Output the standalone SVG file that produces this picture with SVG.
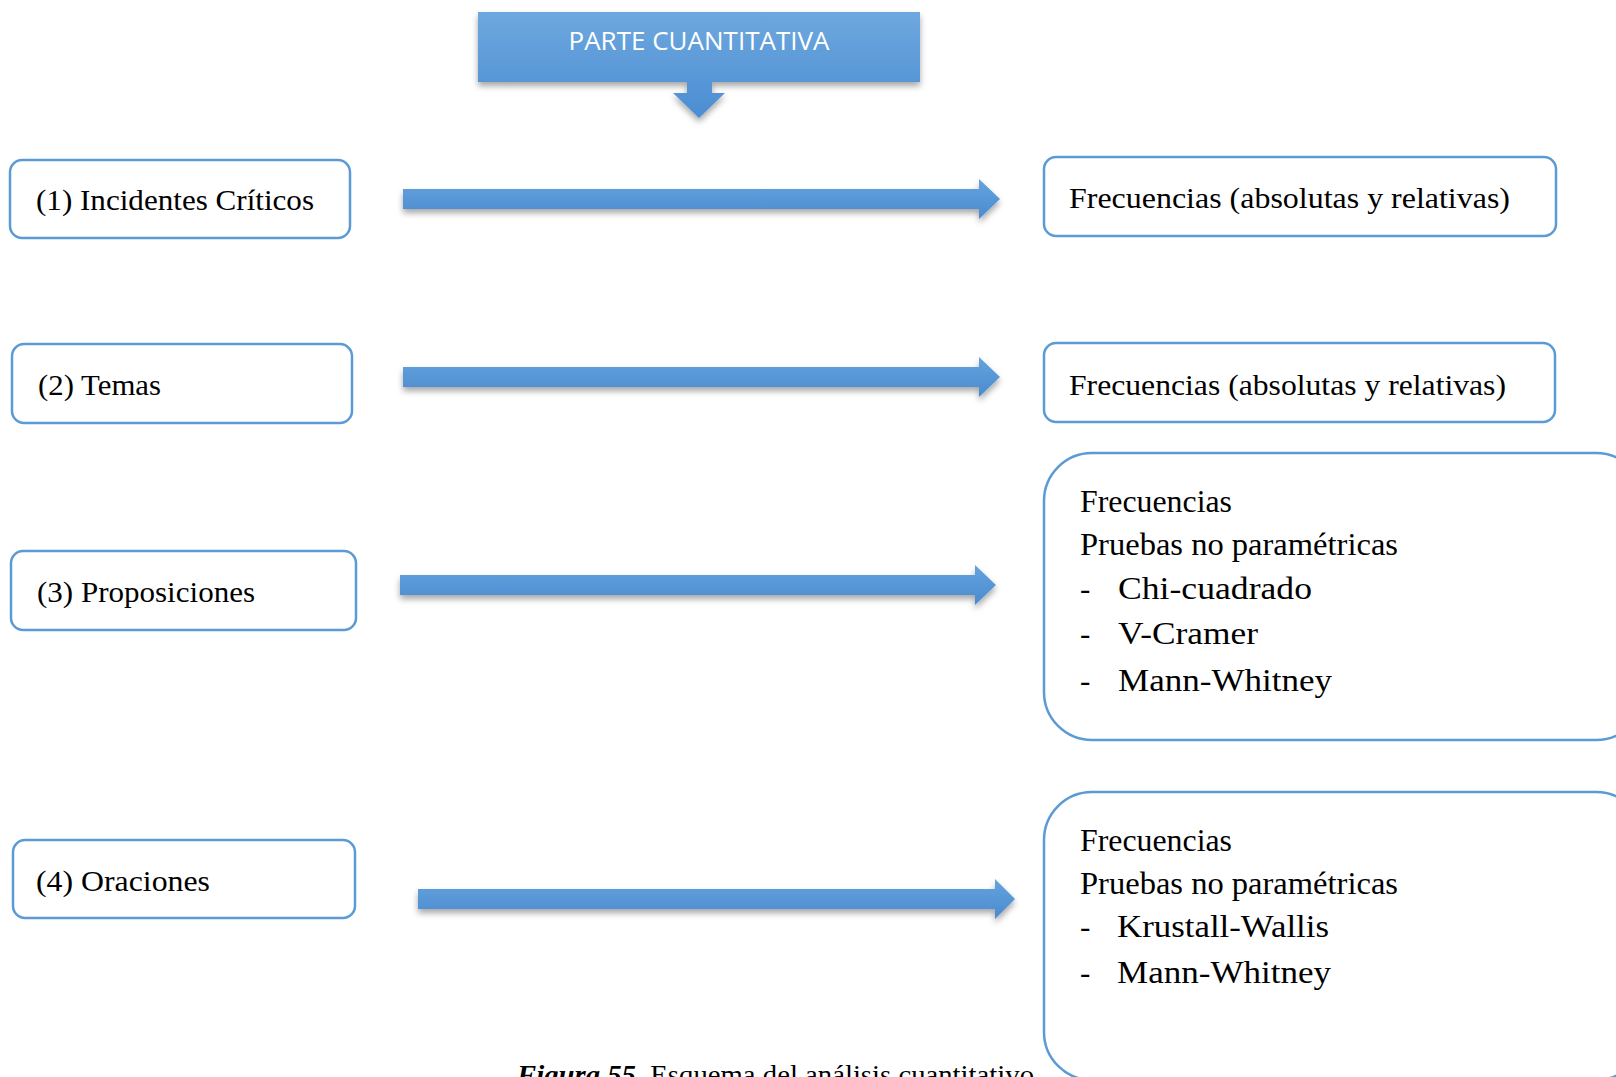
<svg xmlns="http://www.w3.org/2000/svg" width="1616" height="1077" viewBox="0 0 1616 1077">
  <defs>
    <linearGradient id="blueFill" x1="0" y1="0" x2="0" y2="1">
      <stop offset="0" stop-color="#6ea8de"/>
      <stop offset="1" stop-color="#4b8dd3"/>
    </linearGradient>
    <linearGradient id="arrowFill" x1="0" y1="0" x2="0" y2="1">
      <stop offset="0" stop-color="#65a3de"/>
      <stop offset="1" stop-color="#4a8bcf"/>
    </linearGradient>
    <filter id="shadow" x="-5%" y="-40%" width="110%" height="200%">
      <feDropShadow dx="0" dy="4" stdDeviation="3" flood-color="#000" flood-opacity="0.35"/>
    </filter>
  </defs>
  <style>
    .box { fill: #ffffff; stroke: #5b9bd5; stroke-width: 2.5; }
    .lbl { font-family: "Liberation Serif", "DejaVu Serif", serif; font-size: 29px; fill: #000; }
    .lst { font-family: "Liberation Serif", "DejaVu Serif", serif; font-size: 31px; fill: #000; }
    .head { font-family: "Open Sans", "Liberation Sans", sans-serif; font-size: 25px; fill: #ffffff; }
    .cap { font-family: "Liberation Serif", serif; font-size: 27px; fill: #000; }
    .arrow { fill: url(#arrowFill); filter: url(#shadow); }
  </style>

  <rect width="1616" height="1077" fill="#ffffff"/>

  <!-- title callout with downward pointer -->
  <g id="parte-cuantitativa">
    <path d="M478,12 H920 V82 H712 V93 H725 L699,118 L673,93 H687 V82 H478 Z" fill="url(#blueFill)" filter="url(#shadow)"/>
    <text class="head" x="699" y="50" text-anchor="middle" textLength="261" lengthAdjust="spacingAndGlyphs">PARTE CUANTITATIVA</text>
  </g>

  <!-- left-hand units of analysis -->
  <g id="incidentes">
    <rect class="box" x="10" y="160" width="340" height="78" rx="12"/>
    <text class="lbl" x="36" y="210" textLength="278" lengthAdjust="spacingAndGlyphs">(1) Incidentes Críticos</text>
  </g>
  <g id="temas">
    <rect class="box" x="12" y="344" width="340" height="79" rx="12"/>
    <text class="lbl" x="38" y="395" textLength="123" lengthAdjust="spacingAndGlyphs">(2) Temas</text>
  </g>
  <g id="proposiciones">
    <rect class="box" x="11" y="551" width="345" height="79" rx="12"/>
    <text class="lbl" x="37" y="602" textLength="218" lengthAdjust="spacingAndGlyphs">(3) Proposiciones</text>
  </g>
  <g id="oraciones">
    <rect class="box" x="13" y="840" width="342" height="78" rx="12"/>
    <text class="lbl" x="36" y="891" textLength="174" lengthAdjust="spacingAndGlyphs">(4) Oraciones</text>
  </g>

  <!-- right-hand analyses -->
  <g id="frecuencias-1">
    <rect class="box" x="1044" y="157" width="512" height="79" rx="12"/>
    <text class="lbl" x="1069" y="208" textLength="441" lengthAdjust="spacingAndGlyphs">Frecuencias (absolutas y relativas)</text>
  </g>
  <g id="frecuencias-2">
    <rect class="box" x="1044" y="343" width="511" height="79" rx="12"/>
    <text class="lbl" x="1069" y="395" textLength="437" lengthAdjust="spacingAndGlyphs">Frecuencias (absolutas y relativas)</text>
  </g>
  <g id="pruebas-proposiciones">
    <rect class="box" x="1044" y="453" width="600" height="287" rx="48"/>
    <text class="lst" x="1080" y="512" textLength="152" lengthAdjust="spacingAndGlyphs">Frecuencias</text>
    <text class="lst" x="1080" y="555" textLength="318" lengthAdjust="spacingAndGlyphs">Pruebas no paramétricas</text>
    <text class="lst" x="1080" y="599">-</text>
    <text class="lst" x="1118" y="599" textLength="194" lengthAdjust="spacingAndGlyphs">Chi-cuadrado</text>
    <text class="lst" x="1080" y="644">-</text>
    <text class="lst" x="1118" y="644" textLength="140" lengthAdjust="spacingAndGlyphs">V-Cramer</text>
    <text class="lst" x="1080" y="691">-</text>
    <text class="lst" x="1118" y="691" textLength="214" lengthAdjust="spacingAndGlyphs">Mann-Whitney</text>
  </g>
  <g id="pruebas-oraciones">
    <rect class="box" x="1044" y="792" width="600" height="288" rx="48"/>
    <text class="lst" x="1080" y="851" textLength="152" lengthAdjust="spacingAndGlyphs">Frecuencias</text>
    <text class="lst" x="1080" y="894" textLength="318" lengthAdjust="spacingAndGlyphs">Pruebas no paramétricas</text>
    <text class="lst" x="1080" y="937">-</text>
    <text class="lst" x="1117" y="937" textLength="212" lengthAdjust="spacingAndGlyphs">Krustall-Wallis</text>
    <text class="lst" x="1080" y="983">-</text>
    <text class="lst" x="1117" y="983" textLength="214" lengthAdjust="spacingAndGlyphs">Mann-Whitney</text>
  </g>

  <!-- block arrows linking each unit to its analysis -->
  <g id="connectors">
    <path class="arrow" d="M403,189 H979 V179 L1000,199 L979,219 V209 H403 Z"/>
    <path class="arrow" d="M403,367 H979 V357 L1000,377 L979,397 V387 H403 Z"/>
    <path class="arrow" d="M400,575 H975 V565 L996,585 L975,605 V595 H400 Z"/>
    <path class="arrow" d="M418,889 H995 V879 L1015,899 L995,919 V909 H418 Z"/>
  </g>

  <!-- figure caption, running off the lower edge -->
  <text class="cap" x="517" y="1084" textLength="517" lengthAdjust="spacingAndGlyphs"><tspan font-style="italic" font-weight="bold">Figura 55</tspan>. Esquema del análisis cuantitativo</text>
</svg>
